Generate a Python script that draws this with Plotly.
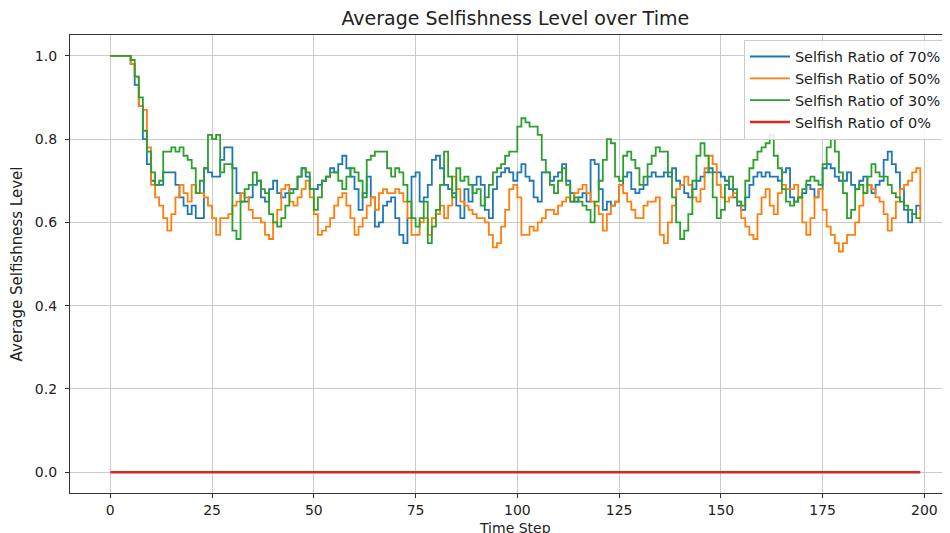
import plotly.graph_objects as go

steps = list(range(200))

ratio_70 = [
    1.0, 1.0, 1.0, 1.0, 1.0, 0.98, 0.93, 0.88, 0.80, 0.74,
    0.70, 0.69, 0.69, 0.72, 0.72, 0.72, 0.69, 0.66, 0.64, 0.62,
    0.64, 0.61, 0.61, 0.73, 0.72, 0.71, 0.71, 0.75, 0.78, 0.78,
    0.73, 0.67, 0.65, 0.65, 0.66, 0.69, 0.70, 0.66, 0.65, 0.68,
    0.70, 0.67, 0.66, 0.67, 0.68, 0.68, 0.71, 0.73, 0.71, 0.68,
    0.68, 0.69, 0.70, 0.71, 0.73, 0.72, 0.74, 0.76, 0.73, 0.71,
    0.68, 0.63, 0.67, 0.71, 0.66, 0.59, 0.60, 0.64, 0.65, 0.66,
    0.61, 0.57, 0.55, 0.61, 0.71, 0.72, 0.65, 0.66, 0.69, 0.75,
    0.76, 0.73, 0.69, 0.68, 0.67, 0.64, 0.61, 0.68, 0.65, 0.69,
    0.71, 0.69, 0.63, 0.61, 0.68, 0.71, 0.72, 0.73, 0.72, 0.70,
    0.72, 0.74, 0.71, 0.70, 0.66, 0.65, 0.72, 0.72, 0.70, 0.71,
    0.72, 0.74, 0.70, 0.67, 0.65, 0.66, 0.67, 0.65, 0.75, 0.74,
    0.68, 0.63, 0.65, 0.64, 0.65, 0.69, 0.71, 0.72, 0.68, 0.67,
    0.68, 0.69, 0.71, 0.72, 0.71, 0.71, 0.72, 0.71, 0.73, 0.70,
    0.69, 0.67, 0.66, 0.68, 0.70, 0.71, 0.72, 0.73, 0.72, 0.72,
    0.71, 0.70, 0.68, 0.66, 0.64, 0.63, 0.66, 0.69, 0.71, 0.72,
    0.71, 0.72, 0.71, 0.71, 0.70, 0.72, 0.73, 0.66, 0.65, 0.66,
    0.67, 0.69, 0.68, 0.66, 0.68, 0.73, 0.74, 0.73, 0.71, 0.70,
    0.70, 0.72, 0.69, 0.68, 0.70, 0.71, 0.69, 0.67, 0.69, 0.70,
    0.75, 0.77, 0.74, 0.72, 0.68, 0.63, 0.60, 0.62, 0.64, 0.63,
]

ratio_50 = [
    1.0, 1.0, 1.0, 1.0, 1.0, 0.98, 0.95, 0.88, 0.87, 0.78,
    0.69, 0.66, 0.64, 0.61, 0.58, 0.62, 0.66, 0.69, 0.67, 0.65,
    0.69, 0.67, 0.67, 0.66, 0.64, 0.61, 0.57, 0.61, 0.61, 0.62,
    0.64, 0.65, 0.67, 0.66, 0.63, 0.61, 0.61, 0.60, 0.57, 0.56,
    0.60, 0.63, 0.68, 0.69, 0.65, 0.64, 0.66, 0.68, 0.70, 0.66,
    0.62, 0.57, 0.58, 0.59, 0.61, 0.64, 0.66, 0.67, 0.64, 0.61,
    0.57, 0.59, 0.61, 0.64, 0.66, 0.63, 0.67, 0.68, 0.67, 0.67,
    0.68, 0.67, 0.65, 0.61, 0.57, 0.57, 0.60, 0.61, 0.57, 0.61,
    0.62, 0.64, 0.61, 0.64, 0.71, 0.68, 0.65, 0.64, 0.63, 0.62,
    0.61, 0.61, 0.60, 0.57, 0.54, 0.55, 0.59, 0.63, 0.68, 0.69,
    0.66, 0.57, 0.57, 0.59, 0.58, 0.60, 0.61, 0.63, 0.63, 0.62,
    0.64, 0.65, 0.66, 0.65, 0.67, 0.68, 0.69, 0.67, 0.65, 0.64,
    0.62, 0.58, 0.62, 0.64, 0.65, 0.69, 0.67, 0.65, 0.63, 0.61,
    0.61, 0.64, 0.65, 0.65, 0.66, 0.57, 0.55, 0.60, 0.64, 0.68,
    0.69, 0.71, 0.69, 0.66, 0.65, 0.68, 0.73, 0.76, 0.74, 0.69,
    0.66, 0.65, 0.66, 0.67, 0.65, 0.61, 0.59, 0.57, 0.56, 0.62,
    0.66, 0.68, 0.64, 0.62, 0.67, 0.69, 0.68, 0.68, 0.69, 0.66,
    0.60, 0.57, 0.61, 0.66, 0.68, 0.63, 0.59, 0.57, 0.55, 0.53,
    0.55, 0.57, 0.57, 0.60, 0.64, 0.67, 0.69, 0.68, 0.66, 0.65,
    0.62, 0.58, 0.61, 0.65, 0.68, 0.69, 0.70, 0.72, 0.73, 0.60,
]

ratio_30 = [
    1.0, 1.0, 1.0, 1.0, 1.0, 0.99, 0.95, 0.90, 0.82, 0.77,
    0.72, 0.69, 0.70, 0.77, 0.77, 0.78, 0.77, 0.78, 0.76, 0.75,
    0.73, 0.67, 0.70, 0.73, 0.81, 0.80, 0.81, 0.72, 0.74, 0.74,
    0.58, 0.56, 0.65, 0.68, 0.69, 0.72, 0.70, 0.68, 0.67, 0.62,
    0.60, 0.59, 0.61, 0.64, 0.67, 0.68, 0.71, 0.73, 0.72, 0.68,
    0.63, 0.66, 0.70, 0.71, 0.72, 0.72, 0.70, 0.68, 0.71, 0.73,
    0.72, 0.70, 0.66, 0.75, 0.76, 0.77, 0.77, 0.77, 0.73, 0.71,
    0.73, 0.72, 0.69, 0.65, 0.61, 0.59, 0.61, 0.65, 0.55, 0.59,
    0.63, 0.69, 0.77, 0.71, 0.66, 0.73, 0.70, 0.71, 0.69, 0.67,
    0.68, 0.64, 0.66, 0.69, 0.72, 0.73, 0.74, 0.76, 0.77, 0.77,
    0.83, 0.85, 0.84, 0.83, 0.83, 0.81, 0.75, 0.72, 0.69, 0.67,
    0.70, 0.73, 0.69, 0.65, 0.66, 0.65, 0.64, 0.63, 0.60, 0.65,
    0.70, 0.75, 0.80, 0.79, 0.71, 0.70, 0.76, 0.77, 0.75, 0.73,
    0.69, 0.71, 0.74, 0.76, 0.78, 0.77, 0.77, 0.72, 0.66, 0.60,
    0.56, 0.58, 0.62, 0.70, 0.76, 0.79, 0.76, 0.72, 0.66, 0.61,
    0.63, 0.69, 0.71, 0.68, 0.65, 0.64, 0.70, 0.73, 0.75, 0.77,
    0.78, 0.79, 0.81, 0.76, 0.73, 0.68, 0.65, 0.64, 0.65, 0.66,
    0.68, 0.70, 0.71, 0.70, 0.69, 0.74, 0.78, 0.80, 0.77, 0.72,
    0.67, 0.61, 0.63, 0.68, 0.69, 0.67, 0.71, 0.74, 0.72, 0.71,
    0.71, 0.69, 0.67, 0.66, 0.65, 0.64, 0.63, 0.62, 0.61, 0.61,
]

ratio_0 = [0.0] * 200

series_names = ["Selfish Ratio of 70%", "Selfish Ratio of 50%",
                "Selfish Ratio of 30%", "Selfish Ratio of 0%"]
series_values = [ratio_70, ratio_50, ratio_30, ratio_0]
series_colors = ["#1f77b4", "#ff7f0e", "#2ca02c", "#d62728"]
series_widths = [1.8, 1.8, 1.8, 2.4]

x_ticks = [0, 25, 50, 75, 100, 125, 150, 175, 200]
y_ticks = [0.0, 0.2, 0.4, 0.6, 0.8, 1.0]
y_tick_labels = ["0.0", "0.2", "0.4", "0.6", "0.8", "1.0"]

fig = go.Figure()
for name, vals, col, w in zip(series_names, series_values, series_colors, series_widths):
    fig.add_trace(go.Scatter(
        x=steps, y=vals, mode="lines", name=name,
        line=dict(color=col, width=w, shape="hv"),
    ))

# The page body has an 8px margin, so the figure is sized/placed to compensate.
font_family = "DejaVu Sans"
fig.update_layout(
    width=942, height=525,
    margin=dict(l=62, r=0, t=27, b=40, autoexpand=False),
    paper_bgcolor="white", plot_bgcolor="white",
    font=dict(family=font_family, size=13, color="#222222"),
    title=dict(text="Average Selfishness Level over Time", x=0.506, xanchor="center",
               xref="paper", y=0.981, yanchor="middle", yref="container",
               font=dict(size=19, color="#222222")),
    showlegend=True,
    legend=dict(x=0.9965, xanchor="right", y=0.99, yanchor="top",
                bgcolor="rgba(255,255,255,0.85)", bordercolor="#cccccc", borderwidth=1,
                font=dict(size=14.5, color="#222222"), tracegroupgap=0,
                itemwidth=40),
    annotations=[dict(text="Time Step", xref="paper", yref="paper", x=0.506, y=-0.076,
                      xanchor="center", yanchor="middle", showarrow=False,
                      font=dict(size=14, color="#222222"))],
)
fig.update_xaxes(
    range=[-9.9, 206.3], tickmode="array", tickvals=x_ticks,
    ticks="outside", ticklen=4, tickcolor="#333333",
    showline=True, linecolor="#333333", linewidth=1.2, mirror=True,
    showgrid=True, gridcolor="#cbcbcb", gridwidth=1, zeroline=False,
    automargin=False,
    tickfont=dict(size=14),
)
fig.update_yaxes(
    range=[-0.05, 1.05], tickmode="array", tickvals=y_ticks, ticktext=y_tick_labels,
    ticks="outside", ticklen=4, tickcolor="#333333",
    showline=True, linecolor="#333333", linewidth=1.2, mirror=False,
    showgrid=True, gridcolor="#cbcbcb", gridwidth=1, zeroline=False,
    automargin=False, ticklabelstandoff=5,
    title=dict(text="Average Selfishness Level", standoff=10, font=dict(size=15)),
    tickfont=dict(size=14),
)

fig.write_html("out.html")
